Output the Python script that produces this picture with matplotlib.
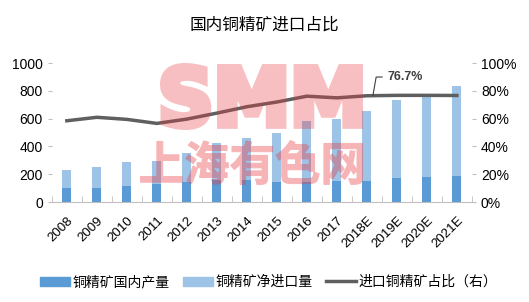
import matplotlib
matplotlib.use("Agg")
import matplotlib.pyplot as plt
from matplotlib.patches import Patch, PathPatch
from matplotlib.lines import Line2D
from matplotlib.textpath import TextPath
from matplotlib.font_manager import FontProperties
from matplotlib.transforms import Affine2D, IdentityTransform
from matplotlib.colors import to_rgb
import numpy as np

plt.rcParams['font.family'] = ['Liberation Sans', 'Noto Sans CJK SC', 'DejaVu Sans']

# ── data ─────────────────────────────────────────────────────
years = ["2008", "2009", "2010", "2011", "2012", "2013", "2014",
         "2015", "2016", "2017", "2018E", "2019E", "2020E", "2021E"]
domestic = [103, 103, 117, 127, 142, 156, 161, 142, 142, 151, 151, 170, 180, 189]
net_import = [127, 151, 171, 170, 208, 271, 297, 352, 441, 446, 506, 564, 590, 648]
import_share = [58.5, 61.0, 59.5, 56.6, 59.7, 64.0, 68.6, 72.0, 76.2, 75.0,
                76.5, 76.8, 76.8, 76.7]

title = "国内铜精矿进口占比"
legend_labels = ["铜精矿国内产量", "铜精矿净进口量", "进口铜精矿占比（右）"]
annot_text = "76.7%"

c_dark = "#5B9BD5"
c_light = "#9DC3E6"
c_line = "#5F5F5F"
c_mark = "#E8383D"
cjk = ["Noto Sans CJK SC", "DejaVu Sans"]

W, H = 529, 302
fig = plt.figure(figsize=(W / 100, H / 100), dpi=100)
ax = fig.add_axes([0.098, 0.331, 0.794, 0.46])
x = np.arange(len(years))

ax.bar(x, domestic, width=0.3, color=c_dark, zorder=2)
ax.bar(x, net_import, bottom=domestic, width=0.3, color=c_light, zorder=2)
ax.set_xlim(-0.5, len(years) - 0.5)
ax.set_ylim(0, 1000)
ax.set_yticks(range(0, 1001, 200))
ax.set_xticks(x)
ax.set_xticklabels(years, rotation=45, ha="right", rotation_mode="anchor")
ax.set_xticks(np.arange(-0.5, len(years), 1), minor=True)
ax.tick_params(axis="x", which="major", length=0, labelsize=9.5, pad=9)
ax.tick_params(axis="x", which="minor", direction="in", length=4, color="#BFBFBF")
ax.tick_params(axis="y", labelsize=10, length=3, color="#BFBFBF")
for s in ["top", "right", "left"]:
    ax.spines[s].set_visible(False)
ax.spines["bottom"].set_color("#BFBFBF")

ax2 = ax.twinx()
ax2.plot(x, import_share, color=c_line, lw=2.5, zorder=3)
ax2.set_ylim(0, 100)
ax2.set_yticks(range(0, 101, 20))
ax2.set_yticklabels([f"{v}%" for v in range(0, 101, 20)])
ax2.tick_params(axis="y", labelsize=10, length=3, color="#BFBFBF")
for s in ["top", "right", "left", "bottom"]:
    ax2.spines[s].set_visible(False)

# leader label for the last value
ax2.annotate(annot_text, xy=(10.2, import_share[10]), xytext=(10.7, 90),
             fontsize=9, fontweight="bold", color="#404040", va="center",
             arrowprops=dict(arrowstyle="-", color="#404040", lw=0.8,
                             shrinkA=2, shrinkB=0,
                             connectionstyle="angle,angleA=0,angleB=80,rad=0"))

fig.text(0.5, 0.918, title, ha="center", va="center", fontsize=12, family=cjk)

# ── watermark: heavy glyphs drawn into a mask, then laid over with alpha ──
mfig = plt.figure(figsize=(W / 100, H / 100), dpi=100)


def glyphs(s, family, box, grow):
    # squeeze the outlines into a pixel box (x0, top, x1, bottom), thickened by `grow` px
    tp = TextPath((0, 0), s, size=1, prop=FontProperties(family=family, weight="bold"))
    ext = tp.get_extents()
    x0, top, x1, bot = box[0] + grow, box[1] + grow, box[2] - grow, box[3] - grow
    sx = (x1 - x0) / ext.width
    sy = (bot - top) / ext.height
    tr = Affine2D().translate(-ext.x0, -ext.y0).scale(sx, sy).translate(x0, H - bot)
    mfig.add_artist(PathPatch(tr.transform_path(tp), transform=IdentityTransform(),
                              facecolor="k", edgecolor="k", lw=2 * grow * 0.72,
                              joinstyle="miter"))


glyphs("SMM", "DejaVu Sans", (160, 63, 363, 130), 3.5)
mfig.canvas.draw()
mask_a = 1 - np.asarray(mfig.canvas.buffer_rgba())[..., 0] / 255.0
mfig.clear()
glyphs("上海有色网", "Noto Sans CJK SC", (140, 140, 363, 185), 0.5)
mfig.canvas.draw()
mask_b = 1 - np.asarray(mfig.canvas.buffer_rgba())[..., 0] / 255.0
plt.close(mfig)

over = np.zeros((H, W, 4))
over[..., :3] = to_rgb(c_mark)
over[..., 3] = np.clip(mask_a * 0.32 + mask_b * 0.38, 0, 1)
fig.figimage(over, xo=0, yo=0, origin="upper", zorder=10)

handles = [Patch(color=c_dark), Patch(color=c_light),
           Line2D([0], [0], color=c_line, lw=2.5)]
fig.legend(handles, legend_labels, loc="center", bbox_to_anchor=(0.508, 0.066),
           ncol=3, frameon=False, handlelength=2.16, handleheight=0.6,
           columnspacing=0.95, handletextpad=0.2,
           prop={"family": cjk, "size": 10})

fig.savefig("out.png", dpi=100)
